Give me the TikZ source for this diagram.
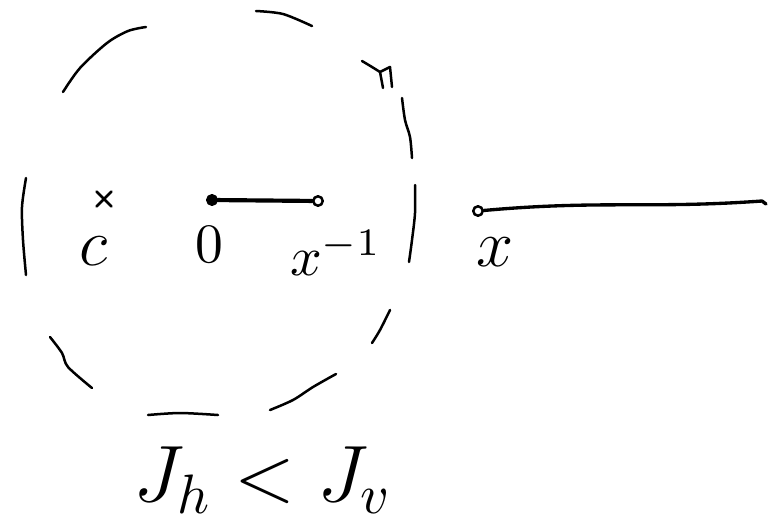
\documentclass[tikz,border=0pt]{standalone}
\usepackage{amsmath,amssymb}
\usetikzlibrary{positioning,shapes.misc}

\begin{document}
\begin{tikzpicture}[
  x=0.18pt,y=-0.18pt,line cap=round,line join=round,
  rim/.style={line width=0.45pt},
  seg/.style={line width=0.75pt},
  ray/.style={line width=0.6pt},
  endpt/.style={circle,draw,line width=0.45pt,minimum size=1.7pt,inner sep=0pt},
  cmark/.style={cross out,draw,line width=0.5pt,minimum size=2.2pt,inner sep=0pt},
  lbl/.style={inner sep=0pt,font=\large}
]
  \useasboundingbox (0,0) rectangle (777,529);

  % Broken circle, drawn stroke by stroke
  \draw[rim] plot[smooth] coordinates {(63,92) (80,68) (107,43) (128,31) (146,27)};
  \draw[rim] plot[smooth] coordinates {(256,11) (283,14) (312,26)};
  \draw[rim] plot[smooth] coordinates {(362,61) (372,67) (380,72)};
  \draw[rim] (380,72) -- (383,88) (380,72) -- (390,67) -- (392,87);
  \draw[rim] plot[smooth] coordinates {(402,98) (405,120) (410,137) (412,158)};
  \draw[rim] plot[smooth] coordinates {(415,185) (415,213) (412,240) (409,262)};
  \draw[rim] plot[smooth] coordinates {(390,310) (380,330) (372,343)};
  \draw[rim] plot[smooth] coordinates {(336,374) (313,387) (293,400) (270,410)};
  \draw[rim] plot[smooth] coordinates {(148,415) (180,413) (218,415)};
  \draw[rim] plot[smooth] coordinates {(50,337) (62,353) (68,367) (92,388)};
  \draw[rim] plot[smooth] coordinates {(26,178) (22,207) (23,240) (26,275)};

  % Points
  \node[cmark] (cpt) at (104,199) {};
  \node[endpt,fill=black] (zero) at (212,200) {};
  \node[endpt] (xinv) at (318,201) {};
  \node[endpt] (xpt) at (478,211) {};
  \coordinate (rayend) at (762,201);

  % Labels under the points
  \node[lbl,below=5.3pt of cpt,xshift=-1.8pt] (clab) {$c$};
  \node[lbl,font=\normalsize,below=3.6pt of zero,xshift=-0.5pt] (zlab) {$0$};
  \node[lbl,font=\normalsize,below=4pt of xinv,xshift=3.2pt] (xilab) {$x^{-1}$};
  \node[lbl,below=3.6pt of xpt,xshift=3pt] (xlab) {$x$};

  % Segment and ray
  \draw[seg] (zero) -- (xinv);
  \draw[ray] (xpt) .. controls (600,200) and (650,209) .. (rayend) -- ++(4,3);

  \node[inner sep=0pt,font=\Large] (cmp) at (263,480) {$J_h < J_v$};
\end{tikzpicture}
\end{document}
